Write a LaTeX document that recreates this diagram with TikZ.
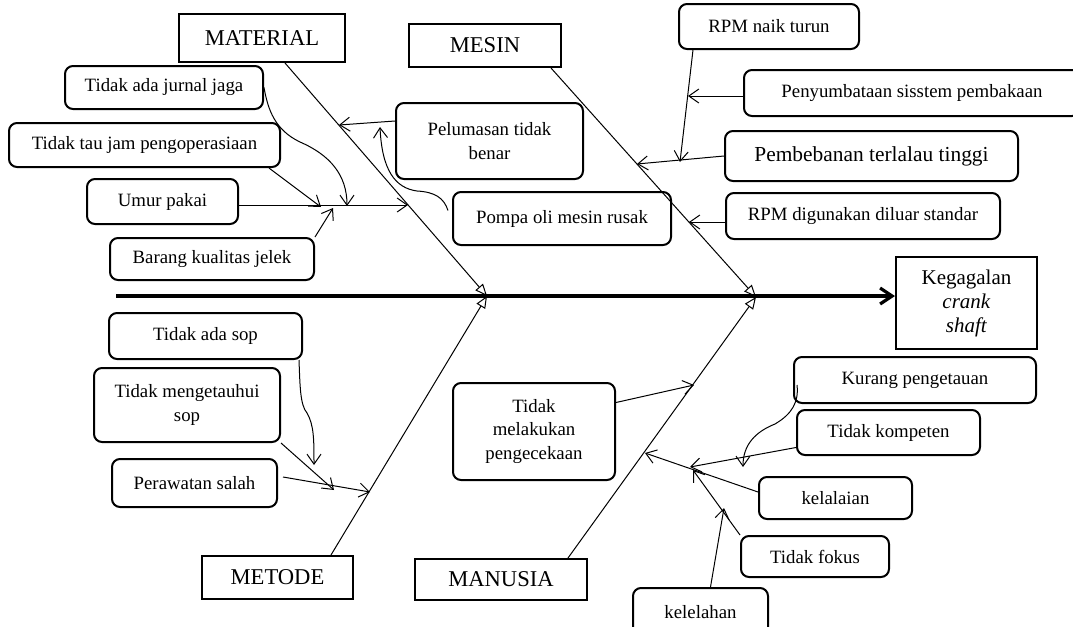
\documentclass[tikz,border=0pt]{standalone}
\usepackage{fontspec}
\setmainfont{Liberation Serif}
\usetikzlibrary{arrows.meta}
\tikzstyle{cat} = [rectangle, line width=1pt, draw=black, inner sep=0pt, text centered, font=\fontsize{11.3pt}{13pt}\selectfont]
\tikzstyle{cause} = [rectangle, rounded corners=4pt, line width=1pt, draw=black, inner sep=0pt, align=center, font=\fontsize{9.4pt}{11.6pt}\selectfont]
\tikzstyle{effect} = [rectangle, line width=1pt, draw=black, inner sep=0pt, align=center, font=\fontsize{10.5pt}{12pt}\selectfont]
\tikzstyle{spine} = [line width=1.6pt, -{Straight Barb[length=6pt,width=8pt]}]
\tikzstyle{bone} = [line width=0.5pt, -{Triangle[open,length=6pt,width=5pt]}]
\tikzstyle{arrow} = [line width=0.5pt, -{Straight Barb[length=5pt,width=7pt]}]
\begin{document}
\begin{tikzpicture}[x=0.5pt, y=-0.5pt, node distance=30pt]
\useasboundingbox (0,0) rectangle (1073,627);
\clip (0,0) rectangle (1073,627);

%Kategori
\node (material) [cat, minimum width=83pt, minimum height=24pt] at (262,38) {MATERIAL};
\node (mesin) [cat, minimum width=76pt, minimum height=21.5pt] at (485,45.5) {MESIN};
\node (metode) [cat, minimum width=75.5pt, minimum height=21.5pt] at (277.5,577.5) {METODE};
\node (manusia) [cat, minimum width=86pt, minimum height=20.5pt] at (501,579.5) {MANUSIA};
\node (gagal) [effect, minimum width=70.5pt, minimum height=46pt] at (966.5,303) {Kegagalan\\\textit{crank}\\\textit{shaft}};

%Material
\node (jurnal) [cause, minimum width=99pt, minimum height=21.5pt] at (164,87.5) {Tidak ada jurnal jaga};
\node (jam) [cause, minimum width=135.5pt, minimum height=22pt, below of=jurnal, xshift=-9.75pt, yshift=1.25pt] {Tidak tau jam pengoperasiaan};
\node (umur) [cause, minimum width=75.5pt, minimum height=22.5pt, below of=jam, xshift=9pt, yshift=1.75pt] {Umur pakai};
\node (barang) [cause, minimum width=102pt, minimum height=21pt, below of=umur, xshift=24.75pt, yshift=1.25pt] {Barang kualitas jelek};
\node (pelumas) [cause, minimum width=93.5pt, minimum height=38pt] at (489.5,141) {Pelumasan tidak\\benar};
\node (pompa) [cause, minimum width=109pt, minimum height=26.5pt, below of=pelumas, xshift=36.25pt, yshift=-8.75pt] {Pompa oli mesin rusak};

%Mesin
\node (rpmnaik) [cause, minimum width=90pt, minimum height=22.5pt] at (769,26.5) {RPM naik turun};
\node (sumbat) [cause, minimum width=168pt, minimum height=23pt, below of=rpmnaik, xshift=71.5pt, yshift=-3.25pt] {Penyumbataan sisstem pembakaan};
\node (beban) [cause, minimum width=146.5pt, minimum height=25pt, below of=sumbat, xshift=-20.25pt, yshift=-1.5pt, font=\fontsize{10.7pt}{13pt}\selectfont] {Pembebanan terlalau tinggi};
\node (rpmguna) [cause, minimum width=137pt, minimum height=23pt, below of=beban, xshift=-4.25pt] {RPM digunakan diluar standar};

%Metode
\node (sop) [cause, minimum width=96.5pt, minimum height=23pt] at (205.5,336) {Tidak ada sop};
\node (tahu) [cause, minimum width=93pt, minimum height=37pt, below of=sop, xshift=-9.25pt, yshift=-4.5pt] {Tidak mengetauhui\\sop};
\node (rawat) [cause, minimum width=82.5pt, minimum height=24pt, below of=tahu, xshift=3.75pt, yshift=-9pt] {Perawatan salah};

%Manusia
\node (cek) [cause, minimum width=81pt, minimum height=48.5pt] at (534,431.5) {Tidak\\melakukan\\pengecekaan};
\node (kurang) [cause, minimum width=121pt, minimum height=23pt] at (915,380) {Kurang pengetauan};
\node (kompeten) [cause, minimum width=91.5pt, minimum height=22.5pt, below of=kurang, xshift=-13.25pt, yshift=3.75pt] {Tidak kompeten};
\node (lalai) [cause, minimum width=76.5pt, minimum height=21pt, below of=kompeten, xshift=-26.5pt, yshift=-2.75pt] {kelalaian};
\node (fokus) [cause, minimum width=74pt, minimum height=20.5pt, below of=lalai, xshift=-10.25pt, yshift=0.75pt] {Tidak fokus};
\node (lelah) [cause, minimum width=67.5pt, minimum height=24pt, below of=fokus, xshift=-57.25pt, yshift=2.25pt] {kelelahan};

%titik ujung
\coordinate (tail) at (116,296);
\coordinate (jl) at (487,296);
\coordinate (jr) at (756,297);
\coordinate (mjurnal) at (347,206);
\coordinate (mjam) at (321,207);
\coordinate (mumur) at (408,205);
\coordinate (mbarang) at (333,208);
\coordinate (mpelumas) at (339,125);
\coordinate (mpompa) at (380,127);
\coordinate (mrpm) at (680,162);
\coordinate (msumbat) at (688,96);
\coordinate (mbeban) at (637,164);
\coordinate (mguna) at (689,222);
\coordinate (msop) at (314,465);
\coordinate (mtahu) at (334,490);
\coordinate (mrawat) at (370,492);
\coordinate (mcek) at (694,385);
\coordinate (mlalai) at (645,453);
\coordinate (mkompeten) at (690,467);
\coordinate (mkurang) at (743,467);
\coordinate (mfokus) at (693,470);
\coordinate (mlelah) at (724,508);

%tulang
\draw [spine] (tail) -- (tail -| gagal.west);
\draw [bone] ([xshift=11.5pt]material.south) -- (jl);
\draw [bone] ([xshift=26.75pt]metode.north) -- (jl);
\draw [bone] ([xshift=33pt]mesin.south) -- (jr);
\draw [bone] ([xshift=33.5pt]manusia.north) -- (jr);

%arrows
\draw [arrow] (jurnal.east) .. controls (268,110) and (275,130) .. (300,142) .. controls (330,155) and (347,175) .. (mjurnal);
\draw [arrow] ([xshift=-6pt]jam.south east) -- (mjam);
\draw [arrow] (umur.east |- mumur) -- (mumur);
\draw [arrow] (barang.north east) -- (mbarang);
\draw [arrow] ([yshift=10pt]pelumas.west) -- (mpelumas);
\draw [arrow] ([xshift=-2pt,yshift=4pt]pompa.west) .. controls (444,198) and (435,192) .. (417,191) .. controls (395,188) and (382,170) .. (mpompa);
\draw [arrow] ([xshift=7.5pt]rpmnaik.south west) -- (mrpm);
\draw [arrow] (msumbat -| sumbat.west) -- (msumbat);
\draw [arrow] (beban.west) -- (mbeban);
\draw [arrow] (mguna -| rpmguna.west) -- (mguna);
\draw [arrow] ([xshift=-2pt]sop.south east) .. controls (300,385) and (300,405) .. (307,413) .. controls (314,425) and (314,440) .. (msop);
\draw [arrow] (tahu.south east) -- (mtahu);
\draw [arrow] ([xshift=2.5pt,yshift=3pt]rawat.east) -- (mrawat);
\draw [arrow] ([yshift=14.5pt]cek.east) -- (mcek);
\draw [arrow] ([yshift=3pt]lalai.west) -- (mlalai);
\draw [arrow] ([yshift=-7.5pt]kompeten.west) -- (mkompeten);
\draw [arrow] ([xshift=2pt,yshift=-2.5pt]kurang.west) .. controls (799,402) and (792,414) .. (775,424) .. controls (755,432) and (743,445) .. (mkurang);
\draw [arrow] (fokus.north west) -- (mfokus);
\draw [arrow] ([xshift=5pt]lelah.north) -- (mlelah);

\end{tikzpicture}
\end{document}
